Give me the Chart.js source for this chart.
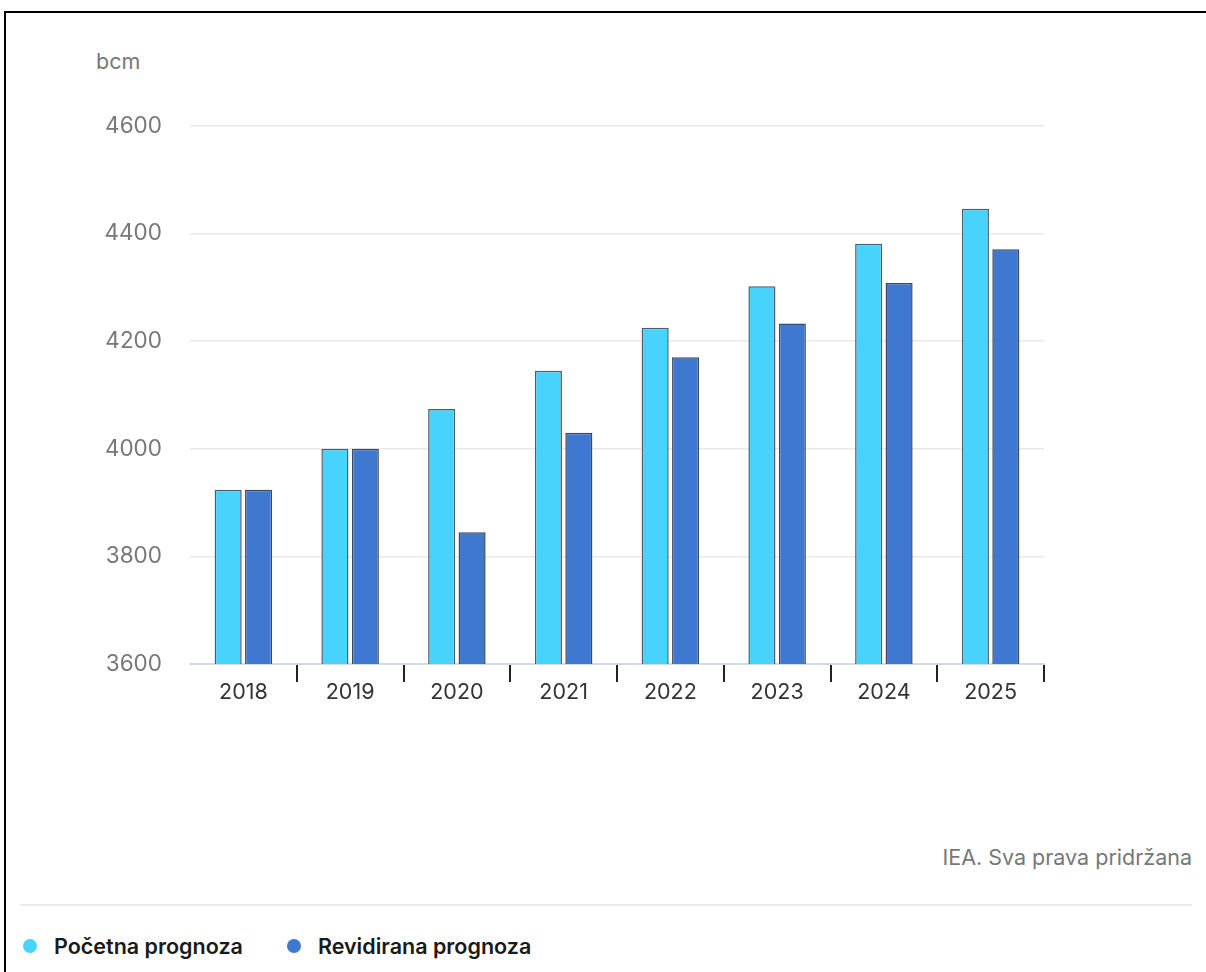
<!DOCTYPE html>
<html>
<head>
    <title>Gas demand forecast</title>
    <script src="https://cdn.jsdelivr.net/npm/chart.js"></script>
    <style>
        body { margin: 0; background: #fff; font-family: Inter, sans-serif; }
        #page { position: relative; width: 1206px; height: 972px; overflow: hidden; }
        #frame { position: absolute; left: 4px; top: 11px; width: 1400px; height: 1200px;
                 border-left: 2px solid #000; border-top: 2px solid #000; }
        #chartBox { position: absolute; left: 0; top: 0; width: 1206px; height: 720px; }
        #unit { position: absolute; left: 96px; top: 48px; font-size: 21.5px; color: #777; }
        #source { position: absolute; right: 14px; top: 844px; font-size: 21.5px; color: #777; }
        #sep { position: absolute; left: 20px; width: 1172px; top: 904px; height: 0; border-top: 2px solid #ebebeb; }
        #legend { position: absolute; left: 23px; top: 933px; display: flex; font-size: 21.5px; font-weight: 600; color: #1a1a1a; }
        .item { display: flex; align-items: center; margin-right: 44px; }
        .dot { width: 14px; height: 14px; border-radius: 50%; margin-right: 17px; }
    </style>
</head>
<body>
<div id="page">
    <div id="frame"></div>
    <div id="unit">bcm</div>
    <div id="chartBox"><canvas id="myChart"></canvas></div>
    <div id="source">IEA. Sva prava pridržana</div>
    <div id="sep"></div>
    <div id="legend"></div>
</div>
<script>
const years = ['2018', '2019', '2020', '2021', '2022', '2023', '2024', '2025'];
const initialForecast = [3924, 4000, 4074, 4145, 4225, 4302, 4381, 4446];
const revisedForecast = [3924, 4000, 3845, 4030, 4170, 4233, 4308, 4371];
const seriesNames = ['Početna prognoza', 'Revidirana prognoza'];
const seriesColors = ['#47d3fc', '#3e78d0'];

// legend as html below the chart
const legendEl = document.getElementById('legend');
seriesNames.forEach((name, i) => {
    legendEl.innerHTML += '<div class="item"><div class="dot" style="background:' + seriesColors[i] + '"></div>' + name + '</div>';
});

const ctx = document.getElementById('myChart').getContext('2d');
const myChart = new Chart(ctx, {
    type: 'bar',
    data: {
        labels: years,
        datasets: [{
            label: seriesNames[0],
            data: initialForecast,
            backgroundColor: seriesColors[0],
            borderColor: '#4d5d6b',
            borderWidth: 1.5
        }, {
            label: seriesNames[1],
            data: revisedForecast,
            backgroundColor: seriesColors[1],
            borderColor: '#3b4a63',
            borderWidth: 1.5
        }]
    },
    options: {
        responsive: true,
        maintainAspectRatio: false,
        animation: false,
        categoryPercentage: 0.57,
        barPercentage: 0.89,
        layout: { padding: { left: 0, right: 162, top: 126, bottom: 0 } },
        plugins: {
            legend: { display: false },
            tooltip: { enabled: false }
        },
        scales: {
            x: {
                afterFit: scale => { scale.height = 56; },
                grid: {
                    offset: true,
                    drawOnChartArea: false,
                    tickLength: 18,
                    lineWidth: 2,
                    color: c => c.index === 0 ? 'rgba(0,0,0,0)' : '#222'
                },
                border: { color: '#d3d9e5', width: 2 },
                ticks: {
                    color: '#333',
                    font: { family: 'Inter', size: 21.5 },
                    padding: -2
                }
            },
            y: {
                min: 3600,
                max: 4600,
                afterFit: scale => { scale.width = 190; },
                grid: {
                    drawTicks: false,
                    color: '#e9e9e9',
                    lineWidth: 1.5
                },
                border: { display: false },
                ticks: {
                    stepSize: 200,
                    color: '#777',
                    padding: 28,
                    font: { family: 'Inter', size: 22.5 },
                    callback: v => String(v)
                }
            }
        }
    }
});
</script>
</body>
</html>
